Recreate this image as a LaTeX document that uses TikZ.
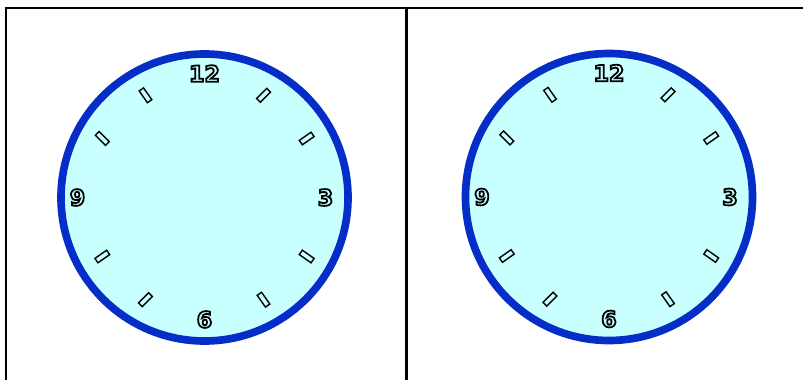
\documentclass[tikz,border=0pt]{standalone}
\usepackage{fontspec}
\setmainfont{DejaVu Sans}
\usepackage{xcolor}
\usetikzlibrary{calc}

\definecolor{ringblue}{RGB}{5,45,200}
\definecolor{faceblue}{RGB}{200,255,255}
\newcommand{\hollow}[1]{\special{pdf:literal direct 1 Tr 1.5 w}#1\special{pdf:literal direct 0 Tr}}

\tikzset{
  frame/.style={line width=2.4pt},
  ring/.style={draw=ringblue, fill=faceblue, line width=2.3mm},
  hourmark/.style={draw, rectangle, line width=1.2pt, minimum width=4.3mm, minimum height=1.6mm, inner sep=0pt},
  hournum/.style={font=\fontsize{19}{19}\selectfont\bfseries, inner sep=0pt}
}

\begin{document}
\begin{tikzpicture}[x=0.3mm,y=0.3mm]
  \useasboundingbox (0,0) rectangle (803,380);
  % table lines
  \draw[frame] (6,0) -- (6,372) -- (803,372);
  \draw[frame] (406.5,372) -- (406.5,0);
  % two clock faces
  \coordinate (c1) at (204.5,182.5);
  \coordinate (c2) at (609,183);
  \foreach \c in {1,2} {
    \draw[ring] (c\c) circle (143.5);
    \node[hournum] (n12-\c) at ($(c\c)+(90:124)$) {\hollow{12}};
    \node[hournum] (n3-\c)  at ($(c\c)+(0:121)$)  {\hollow{3}};
    \node[hournum] (n6-\c)  at ($(c\c)+(270:122)$) {\hollow{6}};
    \node[hournum] (n9-\c)  at ($(c\c)+(180:127)$) {\hollow{9}};
    % hour marks: hour/tilt
    \foreach \h/\t in {1/45,2/35,4/-35,5/-55,7/45,8/35,10/-45,11/-55}
      \node[hourmark, rotate=\t] (m\h-\c) at ($(c\c)+(90-30*\h:118)$) {};
  }
\end{tikzpicture}
\end{document}
